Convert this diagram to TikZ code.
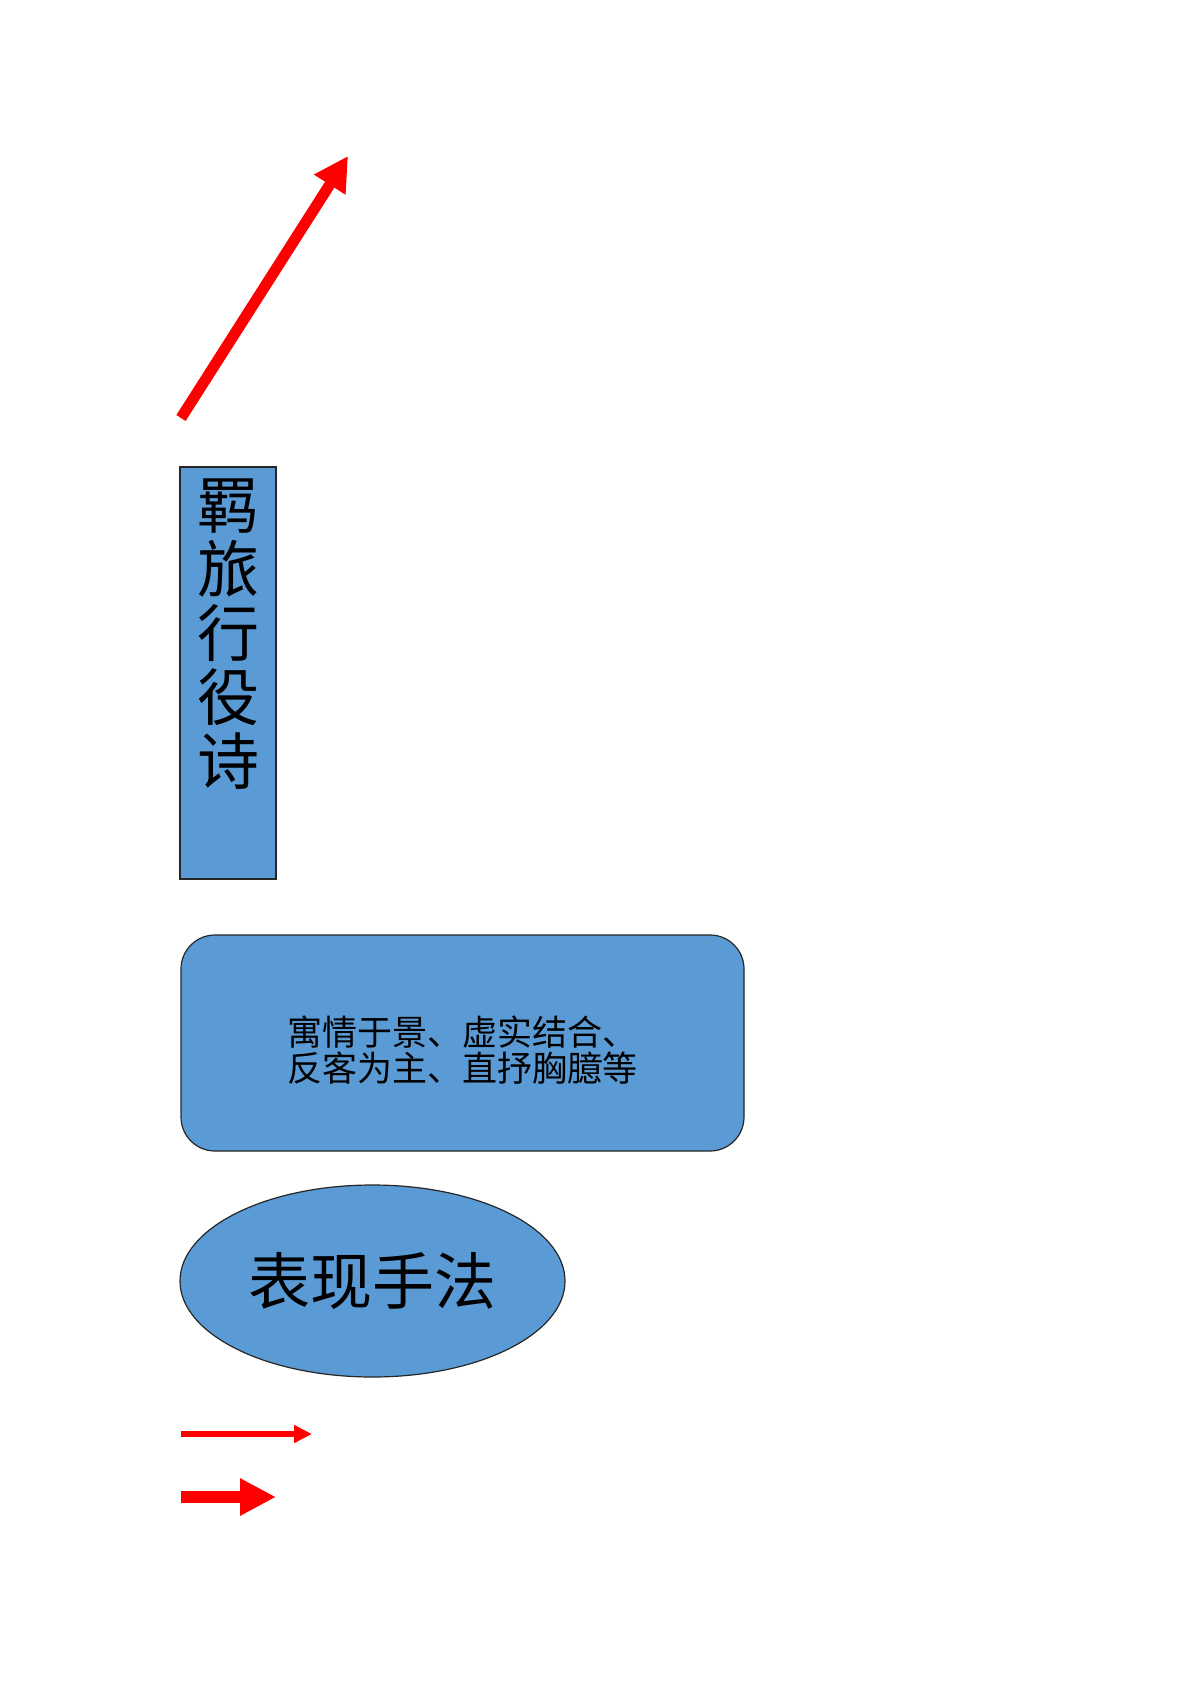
\documentclass[tikz,border=0pt]{standalone}
\usepackage{fontspec}
\setmainfont{Noto Sans CJK SC}
\usetikzlibrary{arrows.meta,shapes.geometric}
\definecolor{boxblue}{HTML}{5B9BD5}
\definecolor{arrowred}{HTML}{FF0000}
\tikzset{
  bluebox/.style={draw=black!85,fill=boxblue,line width=0.6pt,inner sep=0pt},
  redarrow/.style={arrowred,line width=#1},
}
\begin{document}
\begin{tikzpicture}[x=0.5pt,y=-0.5pt]
\useasboundingbox (0,0) rectangle (1191,1684);
\coordinate (upstart) at (181,418);
\coordinate (upend) at (348,156);
\draw[redarrow=5.5pt,-{Triangle[length=17pt,width=17.5pt]}] (upstart) -- (upend);
\node[bluebox,minimum width=48pt,minimum height=206pt] (band) at (228,673) {};
\node[anchor=north,align=center,inner sep=0pt,font=\fontsize{31pt}{32pt}\selectfont] (bandtext) at ([yshift=-6pt]band.north) {羁\\旅\\行\\役\\诗};
\node[bluebox,rounded corners=17pt,minimum width=281.5pt,minimum height=108pt] (method) at (462.5,1043) {};
\node[align=left,inner sep=0pt,font=\fontsize{17.5pt}{18pt}\selectfont] (methodtext) at (462,1050) {寓情于景、虚实结合、\\反客为主、直抒胸臆等};
\node[bluebox,ellipse,minimum width=192.5pt,minimum height=96pt,font=\fontsize{31pt}{32pt}\selectfont] (title) at (372.5,1281) {表现手法};
\coordinate (thinstart) at (181,1434);
\coordinate (thinend) at (312,1434);
\draw[redarrow=3pt,-{Triangle[length=9pt,width=8.5pt]}] (thinstart) -- (thinend);
\coordinate (thickstart) at (181,1497);
\coordinate (thickend) at (276,1497);
\draw[redarrow=6pt,-{Triangle[length=18pt,width=17.5pt]}] (thickstart) -- (thickend);
\end{tikzpicture}
\end{document}
